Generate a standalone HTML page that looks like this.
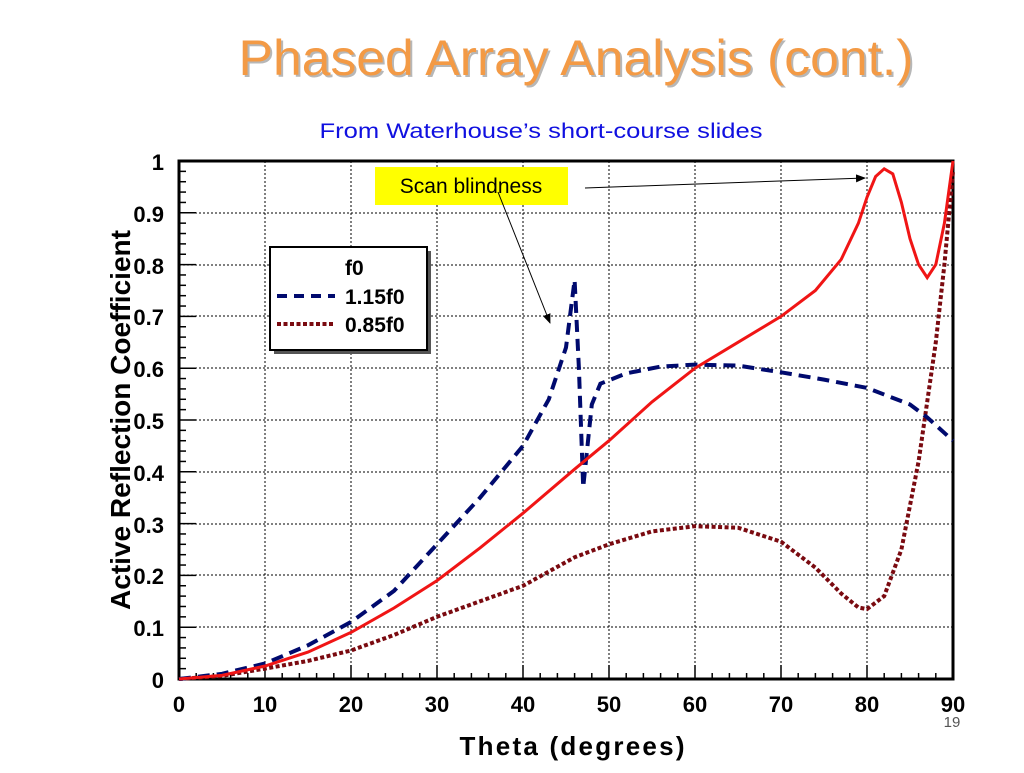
<!DOCTYPE html>
<html><head><meta charset="utf-8"><style>
body{margin:0;background:#fff;}
svg text{font-family:"Liberation Sans",sans-serif;}
</style></head><body>
<svg width="1024" height="768" xmlns="http://www.w3.org/2000/svg">
<defs>
<marker id="ah" markerWidth="10" markerHeight="8" refX="9" refY="4" orient="auto"><path d="M0,0 L10,4 L0,8 z" fill="#000"/></marker>
</defs>
<text x="578" y="77" font-size="50" fill="#888" text-anchor="middle" opacity="0.6" textLength="675" lengthAdjust="spacingAndGlyphs">Phased Array Analysis (cont.)</text>
<text x="576" y="75" font-size="50" fill="#f39a45" text-anchor="middle" textLength="675" lengthAdjust="spacingAndGlyphs">Phased Array Analysis (cont.)</text>
<text x="541" y="138" font-size="21" fill="#1010e0" text-anchor="middle" textLength="443" lengthAdjust="spacingAndGlyphs">From Waterhouse’s short-course slides</text>
<g stroke="#000" stroke-width="1" stroke-dasharray="2,2">
<path d="M265,161V679M351,161V679M437,161V679M523,161V679M609,161V679M695,161V679M781,161V679M867,161V679"/>
<path d="M179,627H953M179,575H953M179,524H953M179,472H953M179,420H953M179,368H953M179,316H953M179,265H953M179,213H953"/>
</g>
<rect x="179" y="161" width="774" height="518" fill="none" stroke="#000" stroke-width="3"/>
<g id="ticks" stroke="#000" stroke-width="1.5"></g>
<g font-size="22" font-weight="bold" text-anchor="end">
<text x="164" y="688">0</text><text x="164" y="636">0.1</text><text x="164" y="584">0.2</text><text x="164" y="533">0.3</text><text x="164" y="481">0.4</text><text x="164" y="429">0.5</text><text x="164" y="377">0.6</text><text x="164" y="325">0.7</text><text x="164" y="274">0.8</text><text x="164" y="222">0.9</text><text x="164" y="170">1</text>
</g>
<g font-size="22" font-weight="bold" text-anchor="middle">
<text x="179" y="712">0</text><text x="265" y="712">10</text><text x="351" y="712">20</text><text x="437" y="712">30</text><text x="523" y="712">40</text><text x="609" y="712">50</text><text x="695" y="712">60</text><text x="781" y="712">70</text><text x="867" y="712">80</text><text x="953" y="712">90</text>
</g>
<text x="952" y="727" font-size="15" fill="#555" text-anchor="middle">19</text>
<text x="572" y="755" font-size="26" font-weight="bold" text-anchor="middle" textLength="225" lengthAdjust="spacing">Theta (degrees)</text>
<text transform="translate(130,420) rotate(-90)" font-size="28" font-weight="bold" text-anchor="middle" textLength="380" lengthAdjust="spacingAndGlyphs">Active Reflection Coefficient</text>
<g id="curves" fill="none"></g>
<rect x="375" y="167" width="193" height="38" fill="#ffff00"/>
<text x="471" y="193" font-size="21" text-anchor="middle">Scan blindness</text>
<line x1="585" y1="188" x2="865" y2="178" stroke="#000" stroke-width="1" marker-end="url(#ah)"/>
<line x1="498" y1="192" x2="550" y2="323" stroke="#000" stroke-width="1" marker-end="url(#ah)"/>
<rect x="274" y="251" width="157" height="103" fill="#555"/>
<rect x="270" y="247" width="157" height="103" fill="#fff" stroke="#000" stroke-width="2"/>
<g font-size="21" font-weight="bold">
<text x="345" y="275">f0</text><text x="345" y="304">1.15f0</text><text x="345" y="332">0.85f0</text>
</g>
<line x1="277" y1="296" x2="335" y2="296" stroke="#000a6e" stroke-width="4" stroke-dasharray="10,7"/>
<line x1="277" y1="324" x2="335" y2="324" stroke="#7a0a10" stroke-width="4" stroke-dasharray="4,2.5"/>
</svg>
<script>
var X=t=>179+t*8.6, Y=v=>679-v*518;
var tk=document.getElementById('ticks'),s='';
for(var i=0;i<=90;i+=2){var x=X(i);s+=`<line x1="${x}" y1="679" x2="${x}" y2="${i%10?673:665}"/>`;}
for(var i=0;i<=50;i++){var y=679-i*10.36;s+=`<line x1="179" y1="${y}" x2="${i%5?186:196}" y2="${y}"/>`;}
tk.innerHTML=s;
function p(d){return d.map((q,i)=>(i?'L':'M')+X(q[0]).toFixed(1)+','+Y(q[1]).toFixed(1)).join('');}
var red=[[0,0],[5,0.007],[10,0.025],[15,0.052],[20,0.09],[25,0.137],[30,0.19],[35,0.253],[40,0.32],[46,0.405],[50,0.46],[55,0.535],[60,0.6],[65,0.65],[70,0.7],[74,0.75],[77,0.81],[79,0.88],[80,0.93],[81,0.97],[82,0.985],[83,0.975],[84,0.92],[85,0.85],[86,0.8],[87,0.775],[88,0.8],[89,0.88],[90,1.0]];
var blue=[[0,0],[5,0.01],[10,0.03],[15,0.065],[20,0.11],[25,0.17],[30,0.26],[35,0.35],[40,0.45],[43,0.54],[45,0.64],[46,0.77],[46.5,0.6],[47,0.37],[48,0.53],[49,0.57],[52,0.59],[56,0.603],[60,0.607],[65,0.605],[70,0.592],[75,0.578],[80,0.562],[85,0.53],[87,0.505],[90,0.46]];
var dot=[[0,0],[5,0.006],[10,0.02],[15,0.035],[20,0.055],[25,0.085],[30,0.12],[35,0.15],[40,0.18],[46,0.235],[50,0.26],[55,0.285],[60,0.295],[65,0.292],[70,0.265],[74,0.215],[77,0.165],[79,0.138],[80,0.135],[82,0.16],[84,0.25],[86,0.42],[88,0.65],[89,0.8],[90,0.98]];
document.getElementById('curves').innerHTML=
`<path d="${p(dot)}" stroke="#7a0a10" stroke-width="4" stroke-dasharray="4,2.5"/>`+
`<path d="${p(blue)}" stroke="#000a6e" stroke-width="4" stroke-dasharray="12,7"/>`+
`<path d="${p(red)}" stroke="#f01515" stroke-width="3"/>`;
</script>
</body></html>
